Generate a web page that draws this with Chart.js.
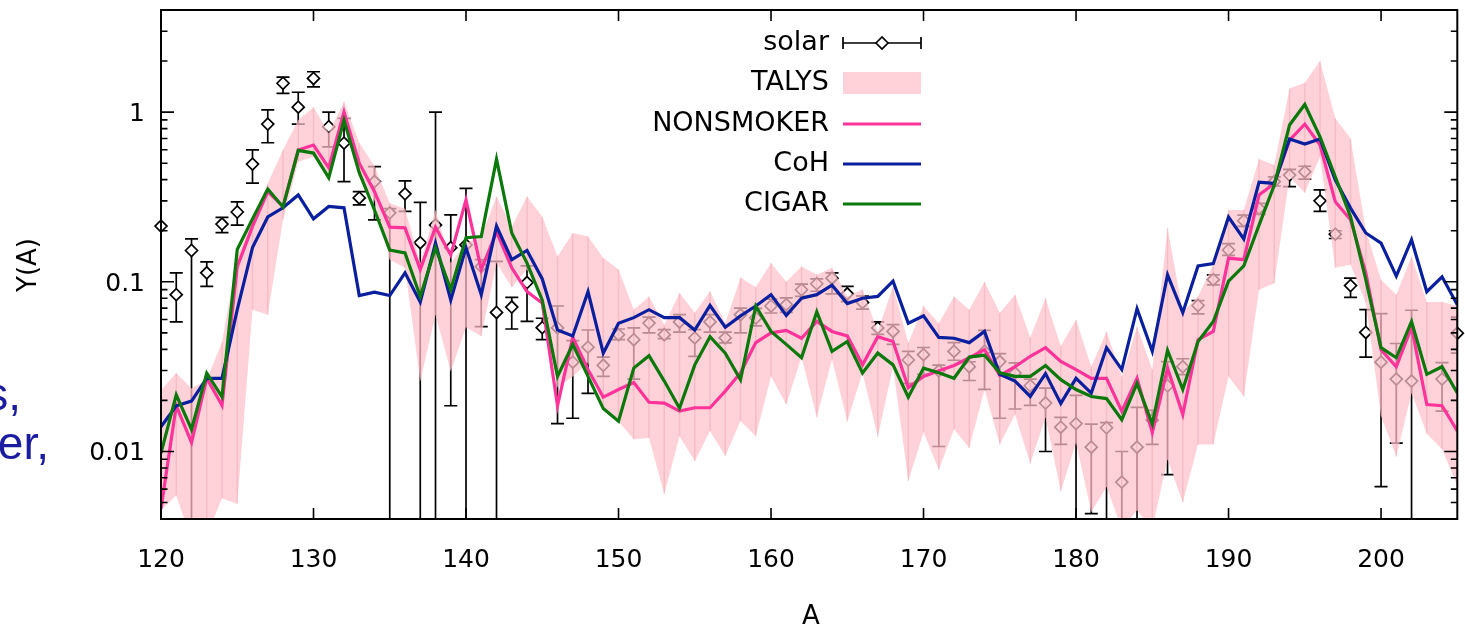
<!DOCTYPE html>
<html>
<head>
<meta charset="utf-8">
<script src="https://cdn.jsdelivr.net/npm/chart.js@4"></script>
<style>
  html, body { margin: 0; padding: 0; background: #fff; }
</style>
</head>
<body>
<canvas id="yieldChart" width="1465" height="630"></canvas>
<script>
const massNumbers = [
  120, 121, 122, 123, 124, 125, 126, 127, 128, 129,
  130, 131, 132, 133, 134, 135, 136, 137, 138, 139,
  140, 141, 142, 143, 144, 145, 146, 147, 148, 149,
  150, 151, 152, 153, 154, 155, 156, 157, 158, 159,
  160, 161, 162, 163, 164, 165, 166, 167, 168, 169,
  170, 171, 172, 173, 174, 175, 176, 177, 178, 179,
  180, 181, 182, 183, 184, 185, 186, 187, 188, 189,
  190, 191, 192, 193, 194, 195, 196, 197, 198, 199,
  200, 201, 202, 203, 204, 205,
];

const solarYield = [
  0.213, 0.084, 0.153, 0.113, 0.219, 0.258, 0.494, 0.85, 1.48, 1.07,
  1.58, 0.82, 0.657, 0.312, 0.39, 0.255, 0.33, 0.17, 0.216, 0.159,
  0.165, 0.123, 0.066, 0.071, 0.099, 0.0537, 0.0535, 0.0336, 0.0412, 0.0322,
  0.0488, 0.0456, 0.0571, 0.0488, 0.058, 0.0467, 0.058, 0.0467, 0.064, 0.0612,
  0.072, 0.0734, 0.0898, 0.0974, 0.105, 0.085, 0.0755, 0.0535, 0.051, 0.0346,
  0.0372, 0.0299, 0.0389, 0.0316, 0.0389, 0.0339, 0.029, 0.0244, 0.0193, 0.0139,
  0.0146, 0.0106, 0.0138, 0.0066, 0.0106, 0.0153, 0.0244, 0.0316, 0.0725, 0.103,
  0.154, 0.229, 0.271, 0.39, 0.426, 0.445, 0.3, 0.191, 0.095, 0.0503,
  0.0336, 0.0267, 0.026, null, 0.0267, 0.0498,
];
// 0.001 = error bar runs below the axis
const solarLow = [
  null, 0.058, 0.001, 0.094, 0.195, 0.216, 0.382, 0.66, 1.29, 0.85,
  1.41, 0.625, 0.39, 0.284, 0.232, 0.001, 0.26, 0.001, 0.001, 0.0186,
  0.001, 0.0545, 0.001, 0.0527, 0.0584, 0.0456, 0.0146, 0.0157, 0.022, 0.0277,
  0.0456, 0.0267, 0.05, 0.0463, 0.0505, 0.0364, 0.0505, 0.0437, 0.05, 0.055,
  0.0655, 0.066, 0.082, 0.088, 0.085, 0.0765, 0.069, 0.049, 0.0428, 0.0252,
  0.0285, 0.0107, 0.0345, 0.0262, 0.0232, 0.0157, 0.0178, 0.0187, 0.01, 0.011,
  0.001, 0.0043, 0.001, 0.001, 0.001, 0.011, 0.0073, 0.0284, 0.0648, 0.096,
  0.143, 0.212, 0.25, 0.367, 0.364, 0.403, 0.26, 0.18, 0.081, 0.036,
  0.0062, 0.0112, 0.001, null, 0.0173, 0.038,
];
const solarHigh = [
  null, 0.113, 0.179, 0.131, 0.24, 0.296, 0.6, 1.03, 1.61, 1.31,
  1.73, 1.0, 0.92, 0.34, 0.477, 0.27, 0.394, 0.294, 1.0, 0.248,
  0.355, 0.135, 0.132, 0.081, 0.124, 0.061, 0.072, 0.045, 0.052, 0.036,
  0.0527, 0.0535, 0.062, 0.0522, 0.064, 0.0522, 0.064, 0.0505, 0.0699, 0.0698,
  0.079, 0.0805, 0.097, 0.104, 0.113, 0.094, 0.0825, 0.058, 0.056, 0.0389,
  0.041, 0.0323, 0.0438, 0.0338, 0.0517, 0.0377, 0.0333, 0.0267, 0.0236, 0.0159,
  0.0214, 0.0145, 0.0148, 0.01, 0.0182, 0.0175, 0.0339, 0.0352, 0.0775, 0.11,
  0.168, 0.247, 0.29, 0.415, 0.46, 0.48, 0.348, 0.2, 0.105, 0.0685,
  0.065, 0.0433, 0.068, null, 0.0334, 0.062,
];

const talysLow = [
  0.0045, 0.0055, 0.003, 0.0032, 0.0053, 0.0049, 0.0685, 0.064, 0.232, 0.51,
  0.546, 0.416, 0.86, 0.415, 0.3, 0.135, 0.121, 0.026, 0.064, 0.0297,
  0.054, 0.0477, 0.129, 0.093, 0.118, 0.078, 0.0238, 0.0277, 0.0335, 0.0177,
  0.015, 0.0118, 0.012, 0.0056, 0.0123, 0.0088, 0.0132, 0.0094, 0.0151, 0.0123,
  0.0277, 0.0189, 0.036, 0.0159, 0.0348, 0.015, 0.0291, 0.0122, 0.0316, 0.0067,
  0.013, 0.0078, 0.0135, 0.0105, 0.0232, 0.011, 0.0165, 0.0085, 0.0159, 0.0058,
  0.0113, 0.0044, 0.0062, 0.0035, 0.0045, 0.0035, 0.009, 0.005, 0.011, 0.011,
  0.0277, 0.0211, 0.0898, 0.098, 0.416, 0.335, 0.546, 0.121, 0.126, 0.075,
  0.0162, 0.0093, 0.0221, 0.0127, 0.0103, 0.0063,
];
const talysHigh = [
  0.023, 0.029, 0.0235, 0.0265, 0.044, 0.14, 0.232, 0.38, 0.6, 0.9,
  1.07, 0.75, 1.15, 0.66, 0.48, 0.29, 0.27, 0.129, 0.265, 0.129,
  0.169, 0.185, 0.318, 0.211, 0.318, 0.242, 0.141, 0.194, 0.185, 0.138,
  0.118, 0.0685, 0.082, 0.0557, 0.086, 0.0658, 0.088, 0.057, 0.106, 0.093,
  0.129, 0.1, 0.123, 0.11, 0.121, 0.082, 0.09, 0.051, 0.094, 0.0438,
  0.072, 0.057, 0.082, 0.0685, 0.1, 0.0658, 0.084, 0.047, 0.08, 0.0417,
  0.0598, 0.0316, 0.051, 0.0277, 0.0545, 0.0304, 0.208, 0.0667, 0.082, 0.126,
  0.265, 0.265, 0.53, 0.488, 1.38, 1.49, 2.0, 0.92, 0.7, 0.202,
  0.103, 0.084, 0.141, 0.076, 0.076, 0.072,
];

const nonsmoker = [
  0.0046, 0.0186, 0.0113, 0.027, 0.0187, 0.123, 0.212, 0.34, 0.278, 0.598,
  0.64, 0.47, 1.0, 0.5, 0.34, 0.21, 0.208, 0.118, 0.21, 0.144,
  0.304, 0.118, 0.197, 0.121, 0.0875, 0.075, 0.0186, 0.047, 0.0304, 0.0209,
  0.0232, 0.0255, 0.0195, 0.0193, 0.0173, 0.0181, 0.0181, 0.0227, 0.0291, 0.0438,
  0.05, 0.0517, 0.0465, 0.0584, 0.051, 0.048, 0.0324, 0.0475, 0.0445, 0.0238,
  0.0277, 0.0299, 0.0321, 0.0357, 0.0398, 0.028, 0.0316, 0.0364, 0.0409, 0.0339,
  0.0304, 0.027, 0.027, 0.0173, 0.027, 0.0129, 0.031, 0.0165, 0.0456, 0.051,
  0.138, 0.135, 0.325, 0.38, 0.684, 0.85, 0.64, 0.296, 0.232, 0.113,
  0.0398, 0.0316, 0.054, 0.0189, 0.0186, 0.0132,
];
const coh = [
  0.014, 0.0186, 0.0198, 0.027, 0.027, 0.0685, 0.159, 0.241, 0.273, 0.325,
  0.235, 0.278, 0.273, 0.083, 0.087, 0.083, 0.113, 0.076, 0.169, 0.078,
  0.159, 0.084, 0.213, 0.135, 0.153, 0.104, 0.052, 0.048, 0.0875, 0.038,
  0.057, 0.0615, 0.0685, 0.0615, 0.0615, 0.052, 0.0725, 0.054, 0.063, 0.072,
  0.084, 0.0634, 0.08, 0.084, 0.0955, 0.0745, 0.08, 0.082, 0.101, 0.057,
  0.063, 0.047, 0.0465, 0.0438, 0.051, 0.0285, 0.026, 0.0211, 0.0288, 0.0192,
  0.027, 0.0221, 0.0409, 0.0304, 0.0694, 0.0389, 0.11, 0.0658, 0.124, 0.128,
  0.241, 0.179, 0.387, 0.38, 0.694, 0.648, 0.694, 0.398, 0.272, 0.194,
  0.169, 0.108, 0.177, 0.0875, 0.107, 0.0732,
];
const cigar = [
  0.0098, 0.0216, 0.0135, 0.029, 0.021, 0.155, 0.235, 0.352, 0.276, 0.595,
  0.574, 0.41, 0.897, 0.44, 0.265, 0.154, 0.148, 0.082, 0.159, 0.09,
  0.182, 0.185, 0.529, 0.194, 0.129, 0.078, 0.0277, 0.0428, 0.0277, 0.0179,
  0.0151, 0.031, 0.0367, 0.026, 0.018, 0.0324, 0.0475, 0.038, 0.0265, 0.072,
  0.051, 0.0428, 0.0357, 0.0667, 0.0389, 0.0445, 0.029, 0.038, 0.0324, 0.0209,
  0.031, 0.0291, 0.027, 0.036, 0.0369, 0.0291, 0.0277, 0.0277, 0.0321, 0.0265,
  0.0232, 0.0211, 0.0205, 0.0154, 0.0252, 0.0145, 0.0395, 0.0232, 0.0445, 0.0584,
  0.101, 0.124, 0.216, 0.372, 0.84, 1.11, 0.716, 0.416, 0.242, 0.103,
  0.0409, 0.0357, 0.0584, 0.0285, 0.0316, 0.0221,
];

const xTickLabels = ["120", "130", "140", "150", "160", "170", "180", "190", "200"];
const yTickLabels = ["0.01", "0.1", "1"];
const legendLabels = ["solar", "TALYS", "NONSMOKER", "CoH", "CIGAR"];

const FONT = '"DejaVu Sans", Verdana, sans-serif';
const BAND_FILL = "rgba(255, 192, 203, 0.72)";
const PINK = "#ff3399";
const BLUE = "#0a1f9e";
const GREEN = "#0a780a";

function points(values) {
  return massNumbers.map((a, i) => ({ x: a, y: values[i] }));
}

function clipToArea(chart) {
  const { ctx, chartArea: area } = chart;
  ctx.beginPath();
  ctx.rect(area.left, area.top, area.right - area.left, area.bottom - area.top);
  ctx.clip();
}

const errorBars = {
  id: "errorBars",
  beforeDatasetDraw(chart, args) {
    if (args.index !== 0) return;
    const ctx = chart.ctx;
    const xs = chart.scales.x;
    const ys = chart.scales.y;
    ctx.save();
    clipToArea(chart);
    ctx.strokeStyle = "#000";
    ctx.lineWidth = 1.7;
    massNumbers.forEach((a, i) => {
      if (solarLow[i] == null || solarHigh[i] == null) return;
      const px = xs.getPixelForValue(a);
      const lo = ys.getPixelForValue(solarLow[i]);
      const hi = ys.getPixelForValue(solarHigh[i]);
      ctx.beginPath();
      ctx.moveTo(px, lo);
      ctx.lineTo(px, hi);
      ctx.moveTo(px - 6.5, lo);
      ctx.lineTo(px + 6.5, lo);
      ctx.moveTo(px - 6.5, hi);
      ctx.lineTo(px + 6.5, hi);
      ctx.stroke();
    });
    ctx.restore();
  },
  afterDatasetDraw(chart, args) {
    if (args.index !== 2) return;
    const ctx = chart.ctx;
    const xs = chart.scales.x;
    const ys = chart.scales.y;
    ctx.save();
    clipToArea(chart);
    ctx.strokeStyle = "rgba(225, 140, 155, 0.3)";
    ctx.lineWidth = 1.5;
    massNumbers.forEach((a, i) => {
      const px = xs.getPixelForValue(a);
      ctx.beginPath();
      ctx.moveTo(px, ys.getPixelForValue(talysLow[i]));
      ctx.lineTo(px, ys.getPixelForValue(talysHigh[i]));
      ctx.stroke();
    });
    ctx.restore();
  },
};

const frameAndLegend = {
  id: "frameAndLegend",
  afterDraw(chart) {
    const { ctx, chartArea: area } = chart;
    const xs = chart.scales.x;
    const ys = chart.scales.y;
    ctx.save();
    ctx.strokeStyle = "#000";
    ctx.lineWidth = 2;
    ctx.strokeRect(area.left, area.top, area.right - area.left, area.bottom - area.top);

    ctx.lineWidth = 1.6;
    ctx.beginPath();
    xTickLabels.forEach((t) => {
      const px = xs.getPixelForValue(Number(t));
      ctx.moveTo(px, area.bottom);
      ctx.lineTo(px, area.bottom - 11);
      ctx.moveTo(px, area.top);
      ctx.lineTo(px, area.top + 11);
    });
    for (let d = -3; d <= 0; d++) {
      for (let m = 1; m <= 9; m++) {
        const v = m * Math.pow(10, d);
        if (v < ys.min || v > ys.max) continue;
        const py = ys.getPixelForValue(v);
        const len = m === 1 ? 13 : 6.5;
        ctx.moveTo(area.left, py);
        ctx.lineTo(area.left + len, py);
        ctx.moveTo(area.right, py);
        ctx.lineTo(area.right - len, py);
      }
    }
    ctx.stroke();

    ctx.fillStyle = "#000";
    ctx.font = "25px " + FONT;
    ctx.textBaseline = "alphabetic";
    ctx.textAlign = "center";
    xTickLabels.forEach((t) => {
      ctx.fillText(t, xs.getPixelForValue(Number(t)), 567);
    });
    ctx.textAlign = "right";
    yTickLabels.forEach((t) => {
      ctx.fillText(t, area.left - 16, ys.getPixelForValue(Number(t)) + 9);
    });

    ctx.font = "26px " + FONT;
    ctx.textAlign = "center";
    ctx.textBaseline = "middle";
    ctx.fillText("A", 811, 617);
    ctx.save();
    ctx.translate(29, 265);
    ctx.rotate(-Math.PI / 2);
    ctx.fillText("Y(A)", 0, 0);
    ctx.restore();

    // legend
    const rows = [43, 83, 124, 164, 204];
    const x0 = 843;
    const x1 = 921;
    ctx.font = "27px " + FONT;
    ctx.textAlign = "right";
    legendLabels.forEach((label, i) => {
      ctx.fillText(label, 829, rows[i]);
    });
    ctx.lineWidth = 1.7;
    ctx.beginPath();
    ctx.moveTo(x0, rows[0]);
    ctx.lineTo(x1, rows[0]);
    ctx.moveTo(x0, rows[0] - 6);
    ctx.lineTo(x0, rows[0] + 6);
    ctx.moveTo(x1, rows[0] - 6);
    ctx.lineTo(x1, rows[0] + 6);
    ctx.stroke();
    const cx = (x0 + x1) / 2;
    ctx.beginPath();
    ctx.moveTo(cx - 6, rows[0]);
    ctx.lineTo(cx, rows[0] - 6);
    ctx.lineTo(cx + 6, rows[0]);
    ctx.lineTo(cx, rows[0] + 6);
    ctx.closePath();
    ctx.fillStyle = "#fff";
    ctx.fill();
    ctx.stroke();

    ctx.fillStyle = BAND_FILL;
    ctx.fillRect(x0, rows[1] - 11, x1 - x0, 22);
    [PINK, BLUE, GREEN].forEach((c, i) => {
      ctx.strokeStyle = c;
      ctx.lineWidth = 3.2;
      ctx.beginPath();
      ctx.moveTo(x0, rows[i + 2]);
      ctx.lineTo(x1, rows[i + 2]);
      ctx.stroke();
    });

    // clipped caption fragment at the left edge
    ctx.fillStyle = "#1c1ca0";
    ctx.font = '46px "Liberation Sans", Arial, sans-serif';
    ctx.textAlign = "right";
    ctx.textBaseline = "alphabetic";
    ctx.fillText("s,", 21, 410);
    ctx.fillText("er,", 49, 459);
    ctx.restore();
  },
};

new Chart(document.getElementById("yieldChart"), {
  type: "line",
  data: {
    datasets: [
      {
        label: "solar",
        data: points(solarYield),
        showLine: false,
        pointStyle: "rectRot",
        pointRadius: 6,
        pointBorderWidth: 1.7,
        pointBorderColor: "#000",
        pointBackgroundColor: "#fff",
        clip: false,
        order: 5,
      },
      {
        label: "TALYS low",
        data: points(talysLow),
        borderWidth: 0,
        pointRadius: 0,
        fill: false,
        order: 4,
      },
      {
        label: "TALYS",
        data: points(talysHigh),
        borderWidth: 0,
        pointRadius: 0,
        backgroundColor: BAND_FILL,
        fill: "-1",
        order: 3,
      },
      {
        label: "NONSMOKER",
        data: points(nonsmoker),
        borderColor: PINK,
        borderWidth: 3.2,
        pointRadius: 0,
        order: 2,
      },
      {
        label: "CoH",
        data: points(coh),
        borderColor: BLUE,
        borderWidth: 3.2,
        pointRadius: 0,
        order: 1,
      },
      {
        label: "CIGAR",
        data: points(cigar),
        borderColor: GREEN,
        borderWidth: 3.2,
        pointRadius: 0,
        order: 0,
      },
    ],
  },
  options: {
    responsive: false,
    devicePixelRatio: 1,
    animation: false,
    layout: { padding: { left: 0, right: 5, top: 10, bottom: 0 } },
    elements: { line: { tension: 0 } },
    plugins: {
      legend: { display: false },
      tooltip: { enabled: false },
    },
    scales: {
      x: {
        type: "linear",
        min: 120,
        max: 205,
        grid: { display: false },
        border: { display: false },
        ticks: { display: false },
        afterFit: (s) => {
          s.height = 111;
        },
      },
      y: {
        type: "logarithmic",
        min: 0.004,
        max: 4,
        grid: { display: false },
        border: { display: false },
        ticks: { display: false },
        afterFit: (s) => {
          s.width = 161;
        },
      },
    },
  },
  plugins: [errorBars, frameAndLegend],
});
</script>
</body>
</html>
